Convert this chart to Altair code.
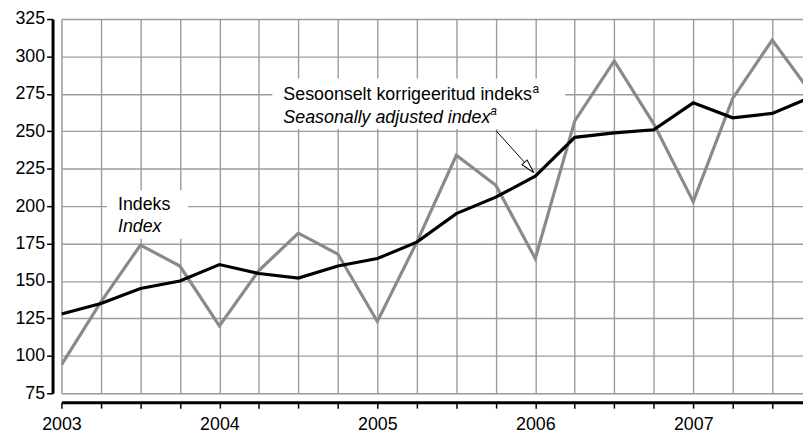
import altair as alt
import pandas as pd

# Quarter index: 0 = 2003 Q1
quarters = list(range(20))
index_values = [94, 136, 174, 160, 120, 157, 182, 168, 123, 176,
                234, 214, 165, 257, 297, 255, 203, 272, 311, 275]
sa_values = [128, 135, 145, 150, 161, 155, 152, 160, 165, 176,
             195, 206, 220, 246, 249, 251, 269, 259, 262, 273]
first_year = 2003
y_ticks = [75, 100, 125, 150, 175, 200, 225, 250, 275, 300, 325]
x_ticks = list(range(19))
X_MAX = 18.78

FONT = "Liberation Sans"
FS = 18

df = pd.DataFrame({"q": quarters, "index": index_values, "sa": sa_values})

xs = alt.Scale(domain=[0, X_MAX], nice=False, zero=False)
ys = alt.Scale(domain=[75, 325], nice=False, zero=False)

x_axis = alt.Axis(values=x_ticks, title=None, grid=True, offset=9,
                  labelExpr=f"datum.value % 4 == 0 ? toString({first_year} + datum.value / 4) : ''",
                  labelFontSize=FS, labelFont=FONT, labelColor="#000", labelPadding=8,
                  domainColor="#000", domainWidth=3, tickColor="#000", tickWidth=1.5, tickSize=6,
                  gridColor="#9b9b9b", gridWidth=1.4, labelFlush=False, labelOverlap=False)
y_axis = alt.Axis(values=y_ticks, title=None, grid=True, offset=9,
                  labelFontSize=FS, labelFont=FONT, labelColor="#000", labelPadding=2,
                  domainColor="#000", domainWidth=3, tickColor="#000", tickWidth=1.5, tickSize=6,
                  gridColor="#9b9b9b", gridWidth=1.4, labelOverlap=False, labelFlush=False)


def X(field):
    return alt.X(field, scale=xs, axis=x_axis, title=None)


def Y(field):
    return alt.Y(field, scale=ys, axis=y_axis, title=None)


base = alt.Chart(df)

# white label boxes
box_df = pd.DataFrame({
    "x1": [1.154, 5.34], "x2": [3.21, 12.76],
    "y1": [210.6, 285.3], "y2": [178.2, 251.6],
})
boxes = alt.Chart(box_df).mark_rect(fill="white").encode(
    x=X("x1:Q"), x2="x2:Q", y=Y("y1:Q"), y2="y2:Q")

line_index = base.mark_line(color="#8a8a8a", strokeWidth=3.2, clip=True).encode(
    x=X("q:Q"), y=Y("index:Q"))
line_sa = base.mark_line(color="#000000", strokeWidth=3.2, clip=True).encode(
    x=X("q:Q"), y=Y("sa:Q"))

normal_df = pd.DataFrame({"q": [1.43, 5.62], "v": [197.4, 270.8],
                          "t": ["Indeks", "Sesoonselt korrigeeritud indeks"]})
italic_df = pd.DataFrame({"q": [1.43, 5.62], "v": [182.8, 255.6],
                          "t": ["Index", "Seasonally adjusted index"]})
sup_n_df = pd.DataFrame({"q": [11.93], "v": [275.4], "t": ["a"]})
sup_i_df = pd.DataFrame({"q": [10.86], "v": [260.8], "t": ["a"]})

txt_normal = alt.Chart(normal_df).mark_text(align="left", baseline="alphabetic", font=FONT,
                                            fontSize=FS, color="#000").encode(
    x=X("q:Q"), y=Y("v:Q"), text="t:N")
txt_italic = alt.Chart(italic_df).mark_text(align="left", baseline="alphabetic", font=FONT,
                                            fontSize=FS, fontStyle="italic", color="#000").encode(
    x=X("q:Q"), y=Y("v:Q"), text="t:N")
txt_sup_n = alt.Chart(sup_n_df).mark_text(align="left", baseline="alphabetic", font=FONT,
                                          fontSize=12, color="#000").encode(
    x=X("q:Q"), y=Y("v:Q"), text="t:N")
txt_sup_i = alt.Chart(sup_i_df).mark_text(align="left", baseline="alphabetic", font=FONT,
                                          fontSize=12, fontStyle="italic", color="#000").encode(
    x=X("q:Q"), y=Y("v:Q"), text="t:N")

arrow_df = pd.DataFrame({"q1": [11.01], "v1": [250.3], "q2": [11.96], "v2": [222.5]})
arrow_line = alt.Chart(arrow_df).mark_rule(color="#000", strokeWidth=1).encode(
    x=X("q1:Q"), y=Y("v1:Q"), x2="q2:Q", y2="v2:Q")
arrow_head = alt.Chart(arrow_df).mark_point(
    shape="M0,0 L0.4,1.6 L-0.4,1.6 Z", filled=True, fill="white", stroke="#000",
    strokeWidth=1, size=300, angle=138, opacity=1).encode(
    x=X("q2:Q"), y=Y("v2:Q"))

chart = alt.layer(boxes, line_index, line_sa, arrow_line, arrow_head,
                  txt_normal, txt_italic, txt_sup_n, txt_sup_i).properties(
    width=749, height=378,
    padding={"left": 54, "top": 9, "right": 0, "bottom": 42},
    autosize=alt.AutoSizeParams(type="none"),
).configure_view(stroke=None).configure(background="white")

chart.save("out.html", embed_options={"renderer": "svg", "actions": False})
